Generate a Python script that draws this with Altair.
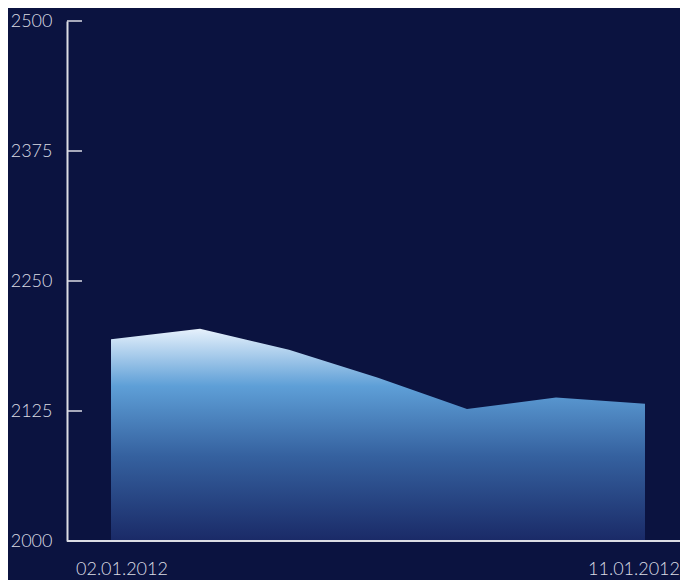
import altair as alt
import pandas as pd

dates = ["02.01.2012", "03.01.2012", "04.01.2012", "05.01.2012",
         "06.01.2012", "09.01.2012", "11.01.2012"]
values = [2194, 2204, 2184, 2157, 2127, 2138, 2132]
y_ticks = [2000, 2125, 2250, 2375, 2500]

df = pd.DataFrame({"date": dates, "value": values})
ticks_df = pd.DataFrame({"t": y_ticks})
first_last = pd.DataFrame({"date": [dates[0], dates[-1]], "pos": ["first", "last"]})

BG = "#0b1340"
AXIS = "#dcdde4"
FONT = "Lato"
FS = 18
W, H = 613, 520

x_scale = alt.Scale(type="point", domain=dates, range=[44, 578], padding=0)
y_scale = alt.Scale(domain=[2000, 2500], zero=False, nice=False)

area = alt.Chart(df).mark_area(
    interpolate="linear",
    color=alt.Gradient(
        gradient="linear",
        stops=[
            alt.GradientStop(color="#e6f1fc", offset=0),
            alt.GradientStop(color="#5e9fd7", offset=0.27),
            alt.GradientStop(color="#35619f", offset=0.6),
            alt.GradientStop(color="#1a2a67", offset=1),
        ],
        x1=0, x2=0, y1=0, y2=1,
    ),
).encode(
    x=alt.X("date:O", scale=x_scale, sort=None, axis=None),
    y=alt.Y("value:Q", scale=y_scale,
            axis=alt.Axis(values=y_ticks, format="d", ticks=False, title=None,
                          grid=False, domainColor=AXIS, domainWidth=2,
                          labelFont=FONT, labelFontSize=FS, labelFontWeight=300,
                          labelColor=AXIS, labelPadding=15)),
    y2=alt.datum(2000),
)

x_axis_line = alt.Chart(ticks_df).transform_filter(
    alt.datum.t == 2000
).mark_rule(color=AXIS, strokeWidth=2).encode(
    y=alt.Y("t:Q", scale=y_scale),
    x=alt.value(0),
    x2=alt.value(W),
)

tick_rules = alt.Chart(ticks_df).mark_rule(color=AXIS, strokeWidth=1.5).encode(
    y=alt.Y("t:Q", scale=y_scale),
    x=alt.value(0),
    x2=alt.value(15),
)

lbl_first = alt.Chart(first_last).transform_filter(
    alt.datum.pos == "first"
).mark_text(align="left", baseline="middle", dx=-35, font=FONT, fontSize=FS,
            fontWeight=300, color=AXIS).encode(
    x=alt.X("date:O", scale=x_scale, sort=None),
    y=alt.value(549),
    text="date:N",
)

lbl_last = alt.Chart(first_last).transform_filter(
    alt.datum.pos == "last"
).mark_text(align="right", baseline="middle", dx=35, font=FONT, fontSize=FS,
            fontWeight=300, color=AXIS).encode(
    x=alt.X("date:O", scale=x_scale, sort=None),
    y=alt.value(549),
    text="date:N",
)

chart = alt.layer(area, x_axis_line, tick_rules, lbl_first, lbl_last).properties(
    width=W,
    height=H,
    padding={"left": 59, "top": 13, "right": 0, "bottom": 40},
    autosize="none",
    background=BG,
).configure_view(stroke=None)

chart.save("out.html", embed_options={"renderer": "svg", "actions": False})
